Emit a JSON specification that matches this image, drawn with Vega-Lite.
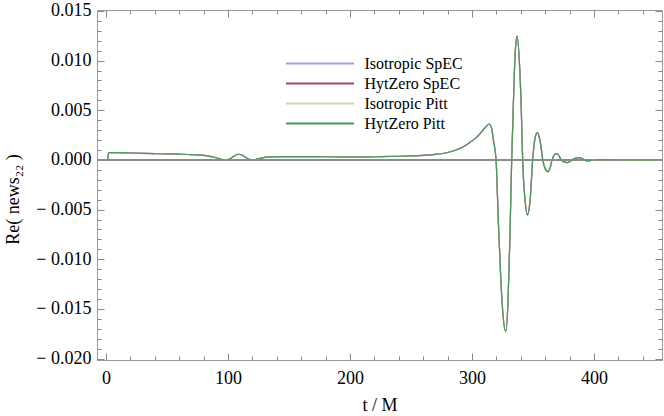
{
  "$schema": "https://vega.github.io/schema/vega-lite/v6.json",
  "width": 565,
  "height": 350,
  "autosize": {"type": "none"},
  "padding": {"left": 97, "top": 10, "right": 2, "bottom": 56},
  "background": "white",
  "config": {
    "view": {"stroke": "#999999", "strokeWidth": 1},
    "font": "Liberation Serif",
    "axis": {"labelFont": "Liberation Serif", "titleFont": "Liberation Serif", "labelColor": "#000", "titleColor": "#000", "titleFontWeight": "normal", "domain": false, "ticks": false, "tickSize": 0, "grid": true, "gridColor": "#888888", "gridWidth": 1, "gridOpacity": 1, "labelOverlap": false, "labelFlush": false, "tickCount": 1000}
  },
  "data": {"values": [
    {"t": 1.5, "a": 0, "b": 0, "c": 0, "d": 0},
    {"t": 2, "a": 0.00075, "b": 0.00075, "c": 0.00075, "d": 0.00075},
    {"t": 10, "a": 0.00073, "b": 0.00073, "c": 0.00073, "d": 0.00073},
    {"t": 20, "a": 0.0007, "b": 0.0007, "c": 0.0007, "d": 0.0007},
    {"t": 30, "a": 0.00067, "b": 0.00067, "c": 0.00067, "d": 0.00067},
    {"t": 40, "a": 0.00064, "b": 0.00064, "c": 0.00064, "d": 0.00064},
    {"t": 50, "a": 0.00061, "b": 0.00061, "c": 0.00061, "d": 0.00061},
    {"t": 60, "a": 0.00058, "b": 0.00058, "c": 0.00058, "d": 0.00058},
    {"t": 70, "a": 0.00054, "b": 0.00054, "c": 0.00054, "d": 0.00054},
    {"t": 78, "a": 0.00048, "b": 0.00048, "c": 0.00048, "d": 0.00048},
    {"t": 85, "a": 0.00036, "b": 0.00036, "c": 0.00036, "d": 0.00036},
    {"t": 90, "a": 0.00022, "b": 0.00022, "c": 0.00022, "d": 0.00022},
    {"t": 94, "a": 0.00008, "b": 0.00008, "c": 0.00008, "d": 0.00008},
    {"t": 98, "a": -0.00002, "b": -0.00002, "c": -0.00002, "d": -0.00002},
    {"t": 102, "a": 0.00015, "b": 0.00015, "c": 0.00015, "d": 0.00015},
    {"t": 105, "a": 0.0004, "b": 0.0004, "c": 0.0004, "d": 0.0004},
    {"t": 108.5, "a": 0.00057, "b": 0.00057, "c": 0.00057, "d": 0.00057},
    {"t": 112, "a": 0.00045, "b": 0.00045, "c": 0.00045, "d": 0.00045},
    {"t": 115, "a": 0.00022, "b": 0.00022, "c": 0.00022, "d": 0.00022},
    {"t": 118, "a": 0.00004, "b": 0.00004, "c": 0.00004, "d": 0.00004},
    {"t": 121, "a": -0.00002, "b": -0.00002, "c": -0.00002, "d": -0.00002},
    {"t": 124, "a": 0.0001, "b": 0.0001, "c": 0.0001, "d": 0.0001},
    {"t": 128, "a": 0.0002, "b": 0.0002, "c": 0.0002, "d": 0.0002},
    {"t": 134, "a": 0.0003, "b": 0.0003, "c": 0.0003, "d": 0.0003},
    {"t": 145, "a": 0.00034, "b": 0.00034, "c": 0.00034, "d": 0.00034},
    {"t": 160, "a": 0.00034, "b": 0.00034, "c": 0.00034, "d": 0.00034},
    {"t": 180, "a": 0.00032, "b": 0.00032, "c": 0.00032, "d": 0.00032},
    {"t": 200, "a": 0.0003, "b": 0.0003, "c": 0.0003, "d": 0.0003},
    {"t": 211, "a": 0.0003, "b": 0.0003, "c": 0.0003, "d": 0.0003},
    {"t": 225, "a": 0.00033, "b": 0.00033, "c": 0.00033, "d": 0.00033},
    {"t": 240, "a": 0.00037, "b": 0.00037, "c": 0.00037, "d": 0.00037},
    {"t": 250, "a": 0.0004, "b": 0.0004, "c": 0.0004, "d": 0.0004},
    {"t": 260, "a": 0.00045, "b": 0.00045, "c": 0.00045, "d": 0.00045},
    {"t": 270, "a": 0.00055, "b": 0.00055, "c": 0.00055, "d": 0.00055},
    {"t": 280, "a": 0.00075, "b": 0.00075, "c": 0.00075, "d": 0.00075},
    {"t": 290, "a": 0.00115, "b": 0.00115, "c": 0.00115, "d": 0.00115},
    {"t": 298, "a": 0.00174, "b": 0.00174, "c": 0.00174, "d": 0.00174},
    {"t": 303, "a": 0.0022, "b": 0.0022, "c": 0.0022, "d": 0.0022},
    {"t": 307, "a": 0.0027, "b": 0.0027, "c": 0.0027, "d": 0.0027},
    {"t": 311, "a": 0.0033, "b": 0.0033, "c": 0.0033, "d": 0.0033},
    {"t": 314, "a": 0.00362, "b": 0.00362, "c": 0.00362, "d": 0.00362},
    {"t": 316, "a": 0.0032, "b": 0.0032, "c": 0.0032, "d": 0.0032},
    {"t": 317.5, "a": 0.002, "b": 0.002, "c": 0.002, "d": 0.002},
    {"t": 319.7, "a": 0, "b": 0, "c": 0, "d": 0},
    {"t": 321.5, "a": -0.006, "b": -0.006, "c": -0.006, "d": -0.006},
    {"t": 323.5, "a": -0.0118, "b": -0.0118, "c": -0.0118, "d": -0.0118},
    {"t": 325.5, "a": -0.0158, "b": -0.0158, "c": -0.0158, "d": -0.0158},
    {"t": 327.6, "a": -0.01727, "b": -0.01727, "c": -0.01727, "d": -0.01727},
    {"t": 329.5, "a": -0.0142, "b": -0.0142, "c": -0.0142, "d": -0.0142},
    {"t": 331, "a": -0.008, "b": -0.008, "c": -0.008, "d": -0.008},
    {"t": 332.5, "a": 0, "b": 0, "c": 0, "d": 0},
    {"t": 334.5, "a": 0.0082, "b": 0.0082, "c": 0.0082, "d": 0.0082},
    {"t": 335.7, "a": 0.0114, "b": 0.0114, "c": 0.0114, "d": 0.0114},
    {"t": 336.9, "a": 0.01247, "b": 0.01247, "c": 0.01247, "d": 0.01247},
    {"t": 339, "a": 0.0094, "b": 0.0094, "c": 0.0094, "d": 0.0094},
    {"t": 340.3, "a": 0.0054, "b": 0.0054, "c": 0.0054, "d": 0.0054},
    {"t": 341.5, "a": 0, "b": 0, "c": 0, "d": 0},
    {"t": 343.5, "a": -0.0041, "b": -0.0041, "c": -0.0041, "d": -0.0041},
    {"t": 345.3, "a": -0.00553, "b": -0.00553, "c": -0.00553, "d": -0.00553},
    {"t": 347.5, "a": -0.0042, "b": -0.0042, "c": -0.0042, "d": -0.0042},
    {"t": 349.7, "a": 0, "b": 0, "c": 0, "d": 0},
    {"t": 351.5, "a": 0.0021, "b": 0.0021, "c": 0.0021, "d": 0.0021},
    {"t": 353.5, "a": 0.00275, "b": 0.00275, "c": 0.00275, "d": 0.00275},
    {"t": 355.8, "a": 0.0019, "b": 0.0019, "c": 0.0019, "d": 0.0019},
    {"t": 358, "a": 0, "b": 0, "c": 0, "d": 0},
    {"t": 360, "a": -0.0009, "b": -0.0009, "c": -0.0009, "d": -0.0009},
    {"t": 362.3, "a": -0.00118, "b": -0.00118, "c": -0.00118, "d": -0.00118},
    {"t": 364, "a": -0.0008, "b": -0.0008, "c": -0.0008, "d": -0.0008},
    {"t": 365.6, "a": 0, "b": 0, "c": 0, "d": 0},
    {"t": 367.5, "a": 0.0005, "b": 0.0005, "c": 0.0005, "d": 0.0005},
    {"t": 369.4, "a": 0.00063, "b": 0.00063, "c": 0.00063, "d": 0.00063},
    {"t": 371.5, "a": 0.0004, "b": 0.0004, "c": 0.0004, "d": 0.0004},
    {"t": 373, "a": 0, "b": 0, "c": 0, "d": 0},
    {"t": 375.5, "a": -0.0002, "b": -0.0002, "c": -0.0002, "d": -0.0002},
    {"t": 378.4, "a": -0.00027, "b": -0.00027, "c": -0.00027, "d": -0.00027},
    {"t": 380.5, "a": -0.00015, "b": -0.00015, "c": -0.00015, "d": -0.00015},
    {"t": 382, "a": 0, "b": 0, "c": 0, "d": 0},
    {"t": 385, "a": 0.00018, "b": 0.00018, "c": 0.00018, "d": 0.00018},
    {"t": 388, "a": 0.00023, "b": 0.00023, "c": 0.00023, "d": 0.00023},
    {"t": 391, "a": 0.0001, "b": 0.0001, "c": 0.0001, "d": 0.0001},
    {"t": 394, "a": -0.0001, "b": -0.0001, "c": -0.0001, "d": -0.0001},
    {"t": 398, "a": -0.00003, "b": -0.00003, "c": -0.00003, "d": -0.00003},
    {"t": 405, "a": 0.00003, "b": 0.00003, "c": 0.00003, "d": 0.00003},
    {"t": 420, "a": 0.00002, "b": 0.00002, "c": 0.00002, "d": 0.00002},
    {"t": 440, "a": 0, "b": 0, "c": 0, "d": 0},
    {"t": 456, "a": 0, "b": 0, "c": 0, "d": 0}
  ]},
  "layer": [
    {
      "mark": {"type": "rule", "color": "#8c8c8c", "strokeWidth": 1},
      "encoding": {"y": {"datum": 0, "type": "quantitative"}}
    },
    {
      "mark": {"type": "line", "strokeWidth": 1.2, "interpolate": "monotone", "clip": true},
      "encoding": {
        "x": {"field": "t", "type": "quantitative",
          "scale": {"domain": [-7.4, 455.7], "nice": false, "zero": false},
          "axis": {
            "orient": "bottom",
            "title": "t / M", "titleFontSize": 18, "titleX": 282.5, "titleY": 45, "titleBaseline": "middle",
            "values": [0,20,40,60,80,100,120,140,160,180,200,220,240,260,280,300,320,340,360,380,400,420,440],
            "gridDash": {"condition": {"test": "datum.value % 100 === 0", "value": [7, 336, 7]}, "value": [4, 342, 4]},
            "labelExpr": "datum.value % 100 === 0 ? format(datum.value, 'd') : ''",
            "labelFontSize": 18, "labelPadding": 9
          }},
        "y": {"field": "a", "type": "quantitative",
          "scale": {"domain": [-0.02015, 0.0151], "nice": false, "zero": false},
          "axis": {
            "orient": "left",
            "title": "Re( news₂₂ )", "titleFontSize": 18, "titleAngle": -90, "titleX": -84, "titleY": 189, "titleAlign": "center", "titleBaseline": "middle",
            "values": [-0.02,-0.019,-0.018,-0.017,-0.016,-0.015,-0.014,-0.013,-0.012,-0.011,-0.01,-0.009,-0.008,-0.007,-0.006,-0.005,-0.004,-0.003,-0.002,-0.001,0,0.001,0.002,0.003,0.004,0.005,0.006,0.007,0.008,0.009,0.01,0.011,0.012,0.013,0.014,0.015],
            "gridDash": {"condition": {"test": "abs(round(datum.value*1000)) % 5 === 0", "value": [7, 551, 7]}, "value": [4, 557, 4]},
            "labelExpr": "abs(round(datum.value*1000)) % 5 !== 0 ? '' : (datum.value < -0.0000001 ? '− ' + format(abs(datum.value), '.3f') : format(abs(datum.value), '.3f'))",
            "labelFontSize": 18, "labelPadding": 6
          }},
        "color": {"datum": "Isotropic SpEC", "type": "nominal",
          "scale": {"domain": ["Isotropic SpEC", "HytZero SpEC", "Isotropic Pitt", "HytZero Pitt"], "range": ["#a3a3dc", "#a8416f", "#d9d1aa", "#4a965e"]},
          "legend": {"orient": "none", "legendX": 213.5, "legendY": 44, "title": null, "padding": 0,
            "symbolType": "M-4,0H4", "symbolSize": 289, "symbolStrokeWidth": 1.8,
            "labelFont": "Liberation Serif", "labelFontSize": 16, "labelColor": "#000", "labelOffset": 35, "rowPadding": 2}
        }
      }
    },
    {
      "mark": {"type": "line", "strokeWidth": 1.2, "interpolate": "monotone", "clip": true},
      "encoding": {
        "x": {"field": "t", "type": "quantitative"},
        "y": {"field": "b", "type": "quantitative"},
        "color": {"datum": "HytZero SpEC", "type": "nominal"}
      }
    },
    {
      "mark": {"type": "line", "strokeWidth": 1.2, "interpolate": "monotone", "clip": true},
      "encoding": {
        "x": {"field": "t", "type": "quantitative"},
        "y": {"field": "c", "type": "quantitative"},
        "color": {"datum": "Isotropic Pitt", "type": "nominal"}
      }
    },
    {
      "mark": {"type": "line", "strokeWidth": 1.2, "interpolate": "monotone", "clip": true},
      "encoding": {
        "x": {"field": "t", "type": "quantitative"},
        "y": {"field": "d", "type": "quantitative"},
        "color": {"datum": "HytZero Pitt", "type": "nominal"}
      }
    }
  ]
}
